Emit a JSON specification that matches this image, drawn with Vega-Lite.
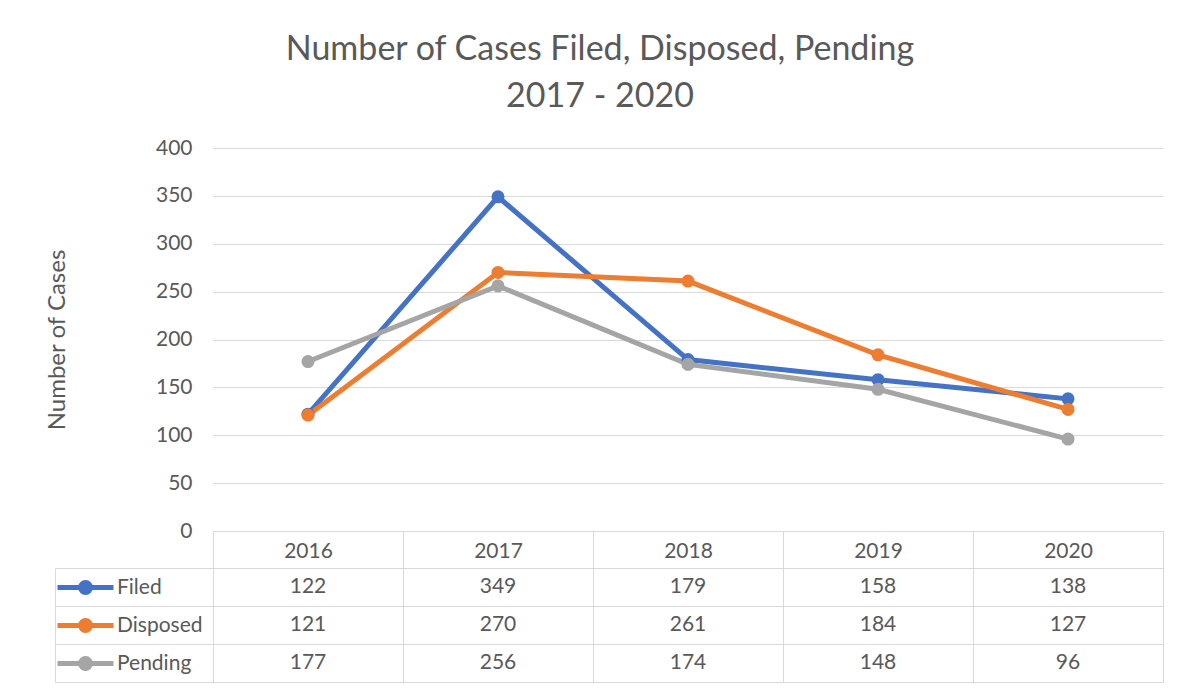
{
  "$schema": "https://vega.github.io/schema/vega-lite/v6.json",
  "width": 950,
  "height": 534,
  "autosize": "none",
  "padding": {"left": 213, "top": 148, "right": 23, "bottom": 11},
  "background": "white",
  "config": {"font": "Lato", "view": {"stroke": null}},
  "title": {
    "text": ["Number of Cases Filed, Disposed, Pending", "2017 - 2020"],
    "fontSize": 34,
    "fontWeight": "normal",
    "color": "#595959",
    "anchor": "middle",
    "frame": "group",
    "dx": -88,
    "offset": 23,
    "lineHeight": 47
  },
  "data": {
    "values": [
      {"year": "2016", "series": "Filed", "value": 122},
      {"year": "2017", "series": "Filed", "value": 349},
      {"year": "2018", "series": "Filed", "value": 179},
      {"year": "2019", "series": "Filed", "value": 158},
      {"year": "2020", "series": "Filed", "value": 138},
      {"year": "2016", "series": "Disposed", "value": 121},
      {"year": "2017", "series": "Disposed", "value": 270},
      {"year": "2018", "series": "Disposed", "value": 261},
      {"year": "2019", "series": "Disposed", "value": 184},
      {"year": "2020", "series": "Disposed", "value": 127},
      {"year": "2016", "series": "Pending", "value": 177},
      {"year": "2017", "series": "Pending", "value": 256},
      {"year": "2018", "series": "Pending", "value": 174},
      {"year": "2019", "series": "Pending", "value": 148},
      {"year": "2020", "series": "Pending", "value": 96}
    ]
  },
  "layer": [
    {
      "encoding": {
        "x": {
          "field": "year",
          "type": "ordinal",
          "scale": {"type": "band", "paddingInner": 0, "paddingOuter": 0},
          "axis": {
            "orient": "bottom",
            "offset": -151,
            "title": null,
            "tickBand": "extent",
            "tickSize": 151,
            "tickColor": "#D9D9D9",
            "tickWidth": 1,
            "domainColor": "#D9D9D9",
            "labelFontSize": 21,
            "labelColor": "#595959",
            "labelPadding": -142,
            "labelAngle": 0,
            "grid": false
          }
        },
        "y": {
          "field": "value",
          "type": "quantitative",
          "scale": {"domain": [0, 400], "range": [383, 0], "nice": false},
          "axis": {
            "orient": "left",
            "values": [0, 50, 100, 150, 200, 250, 300, 350, 400],
            "domain": false,
            "ticks": false,
            "grid": true,
            "gridColor": "#D9D9D9",
            "labelPadding": 21,
            "labelFontSize": 21,
            "labelColor": "#595959",
            "title": "Number of Cases",
            "titleFontSize": 24,
            "titleFontWeight": "normal",
            "titleColor": "#595959",
            "titlePadding": 86
          }
        },
        "color": {
          "field": "series",
          "type": "nominal",
          "scale": {"domain": ["Filed", "Disposed", "Pending"], "range": ["#4472C4", "#ED7D31", "#A5A5A5"]},
          "legend": {
            "orient": "none",
            "legendX": -140,
            "legendY": 427,
            "title": null,
            "padding": 0,
            "symbolType": "M-2.8,0L2.8,0M-0.5,0A0.5,0.5,0,1,0,0.5,0A0.5,0.5,0,1,0,-0.5,0Z",
            "symbolSize": 400,
            "symbolStrokeWidth": 5,
            "labelFontSize": 21,
            "labelColor": "#595959",
            "labelOffset": 19,
            "rowPadding": 7,
            "encode": {
              "symbols": {
                "update": {
                  "fill": {"scale": "color", "field": "value"},
                  "stroke": {"scale": "color", "field": "value"},
                  "opacity": {"value": 1}
                }
              }
            }
          }
        }
      },
      "layer": [
        {"mark": {"type": "line", "strokeWidth": 5}},
        {"mark": {"type": "point", "filled": true, "size": 170, "opacity": 1}}
      ]
    },
    {
      "mark": {"type": "text", "fontSize": 21, "color": "#595959"},
      "encoding": {
        "x": {"field": "year", "type": "ordinal"},
        "y": {
          "field": "series",
          "type": "nominal",
          "scale": {"type": "band", "domain": ["Filed", "Disposed", "Pending"], "range": [420, 534], "paddingInner": 0, "paddingOuter": 0},
          "axis": {
            "orient": "left",
            "offset": 158,
            "tickSize": -158,
            "tickBand": "extent",
            "domain": true,
            "domainColor": "#D9D9D9",
            "tickColor": "#D9D9D9",
            "grid": true,
            "gridColor": "#D9D9D9",
            "labels": false,
            "title": null
          }
        },
        "text": {"field": "value", "type": "quantitative"}
      }
    }
  ],
  "resolve": {"scale": {"y": "independent"}}
}
